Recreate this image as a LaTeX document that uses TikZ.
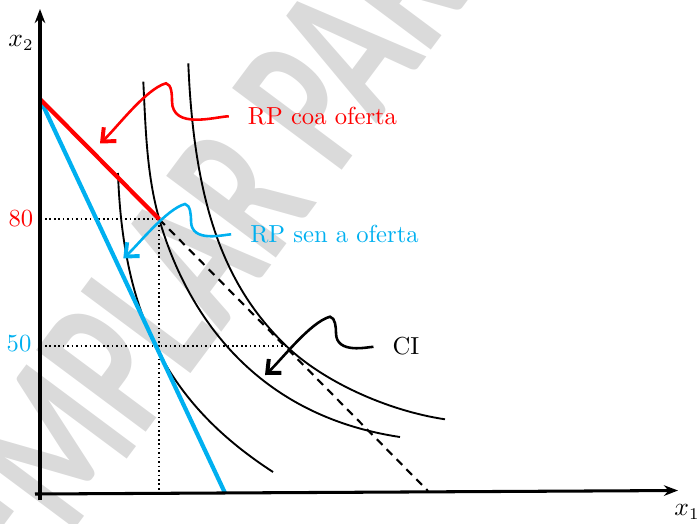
\documentclass[tikz,border=0pt]{standalone}
\usepackage{amsmath}
\usepackage{fontspec}
\newfontfamily\wmfont{Carlito}
\usetikzlibrary{arrows.meta}

\definecolor{rpred}{RGB}{255,0,0}
\definecolor{rpblue}{RGB}{0,176,240}
\definecolor{wmgray}{RGB}{218,218,218}

\tikzset{
    axis/.style={line width=1.3pt, -{Stealth[length=6pt, width=4.5pt]}},
    ic/.style={line width=0.8pt},
    budget/.style={line width=1.8pt},
    guide/.style={line width=0.7pt, dash pattern=on 0.7pt off 1.2pt},
    squiggle/.style={line width=1.1pt, shorten <=7pt,
        -{Straight Barb[length=4.5pt, width=8pt, line width=1.7pt]}},
    lbl/.style={font=\fontsize{10.5}{12}\selectfont, inner sep=1pt},
    wmark/.style={text=wmgray, font=\wmfont\bfseries\fontsize{90}{90}\selectfont, inner sep=0pt},
}

\begin{document}
\begin{tikzpicture}[x=0.015cm, y=0.015cm]
        \useasboundingbox (-40,-30) rectangle (658,493);

        % watermark
        \begin{scope}
            \clip (-40,-30) rectangle (658,493);
            \node[wmark, rotate=53.3, anchor=base west] (wm) at (-98,-214) {\scalebox{0.66}[1]{EXEMPLAR PARA}};
        \end{scope}

        \coordinate (top) at (0,394);
        \coordinate (p80) at (119.3,273.7);
        \coordinate (blueend) at (185,0);
        \coordinate (dashend) at (388,2);
        \coordinate (e50) at (246,147.3);

        % dotted guides
        \draw[guide] (5,273.7) -- (p80) -- (119.3,1.5);
        \draw[guide] (5,147.3) -- (e50);

        % indifference curves
        \draw[ic] (78,320) .. controls (83,170) and (133,86) .. (233,21);
        \draw[ic] (103.3,411.3) .. controls (105.6,365.3) and (106.6,318) .. (p80)
                  .. controls (141.3,196.7) and (201.8,79.7) .. (360,56);
        \draw[ic] (148.3,429.7) .. controls (154.3,279.7) and (188.6,203) .. (e50)
                  .. controls (281.9,112.5) and (345.7,82.6) .. (405,73.7);

        % budget lines
        \draw[line width=0.9pt, dash pattern=on 3.4pt off 2.6pt] (p80) -- (dashend);
        \draw[budget, rpblue] (top) -- (blueend);
        \draw[budget, rpred] (top) -- (p80);

        % axes
        \draw[axis] (-5,-1) -- (638,2.5);
        \draw[axis] (0,-7) -- (0,484);
        \node[lbl] (x2) at (-19,450) {$x_2$};
        \node[lbl] (x1) at (647,-19) {$x_1$};
        \node[lbl, text=rpred] (v80) at (-19,274) {80};
        \node[lbl, text=rpblue] (v50) at (-21,149) {50};

        % labels with arrows
        \node[lbl, text=rpred] (rpcoa) at (282.5,377) {RP coa oferta};
        \node[lbl, text=rpblue] (rpsen) at (294.5,259) {RP sen a oferta};
        \node[lbl] (ci) at (366,146.5) {CI};

        \coordinate (redtip) at (60,349.7);
        \coordinate (bluetip) at (83.3,234.7);
        \coordinate (citip) at (225,118);

        \draw[squiggle, rpred] (rpcoa.west) to[out=181, in=-90] (132,392) to[out=90, in=-10, looseness=0.8] (126,409.7) to[out=195, in=42, looseness=0.6] (redtip);
        \draw[squiggle, rpblue] (rpsen.west) to[out=181, in=-90] (151,272) to[out=90, in=-10, looseness=0.8] (145,289) to[out=195, in=42, looseness=0.6] (bluetip);
        \draw[squiggle] (ci.west) to[out=181, in=-90] (296,160) to[out=90, in=-10, looseness=0.8] (290,176.3) to[out=195, in=42, looseness=0.6] (citip);
\end{tikzpicture}
\end{document}
